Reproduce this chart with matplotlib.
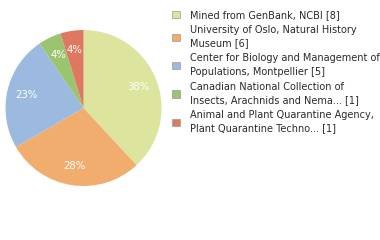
import matplotlib
matplotlib.use("Agg")
import matplotlib.pyplot as plt
from matplotlib.patches import Patch

labels = [
    "Mined from GenBank, NCBI [8]",
    "University of Oslo, Natural History\nMuseum [6]",
    "Center for Biology and Management of\nPopulations, Montpellier [5]",
    "Canadian National Collection of\nInsects, Arachnids and Nema... [1]",
    "Animal and Plant Quarantine Agency,\nPlant Quarantine Techno... [1]",
]
counts = [8, 6, 5, 1, 1]
colors = ["#dde49e", "#f0ad6e", "#9cbae0", "#9bc46e", "#de7860"]

def pct(p):
    return "%d%%" % int(p + 1e-9)

fig = plt.figure(figsize=(3.8, 2.4), dpi=100)
ax = fig.add_axes([5.5 / 380, 54 / 240, 156 / 380, 156 / 240])
wedges, texts, autotexts = ax.pie(
    counts, colors=colors, startangle=90, counterclock=False,
    autopct=pct, pctdistance=0.75,
    textprops=dict(color="white", fontsize=7.3, family="DejaVu Sans"),
)
ax.set_aspect("equal")
ax.set_xlim(-1, 1)
ax.set_ylim(-1, 1)

handles = [Patch(facecolor=c, edgecolor="#999999", linewidth=0.5) for c in colors]
leg = fig.legend(
    handles, labels, loc="upper left", bbox_to_anchor=(172 / 380, 1 - 10 / 240),
    frameon=False, fontsize=7, handlelength=0.8, handleheight=0.8,
    handletextpad=1.1, labelspacing=0.5, borderaxespad=0, borderpad=0,
)
for t in leg.get_texts():
    t.set_color("#2a2a2a")
    t.set_linespacing(1.44)

fig.savefig("out.png", dpi=100)
